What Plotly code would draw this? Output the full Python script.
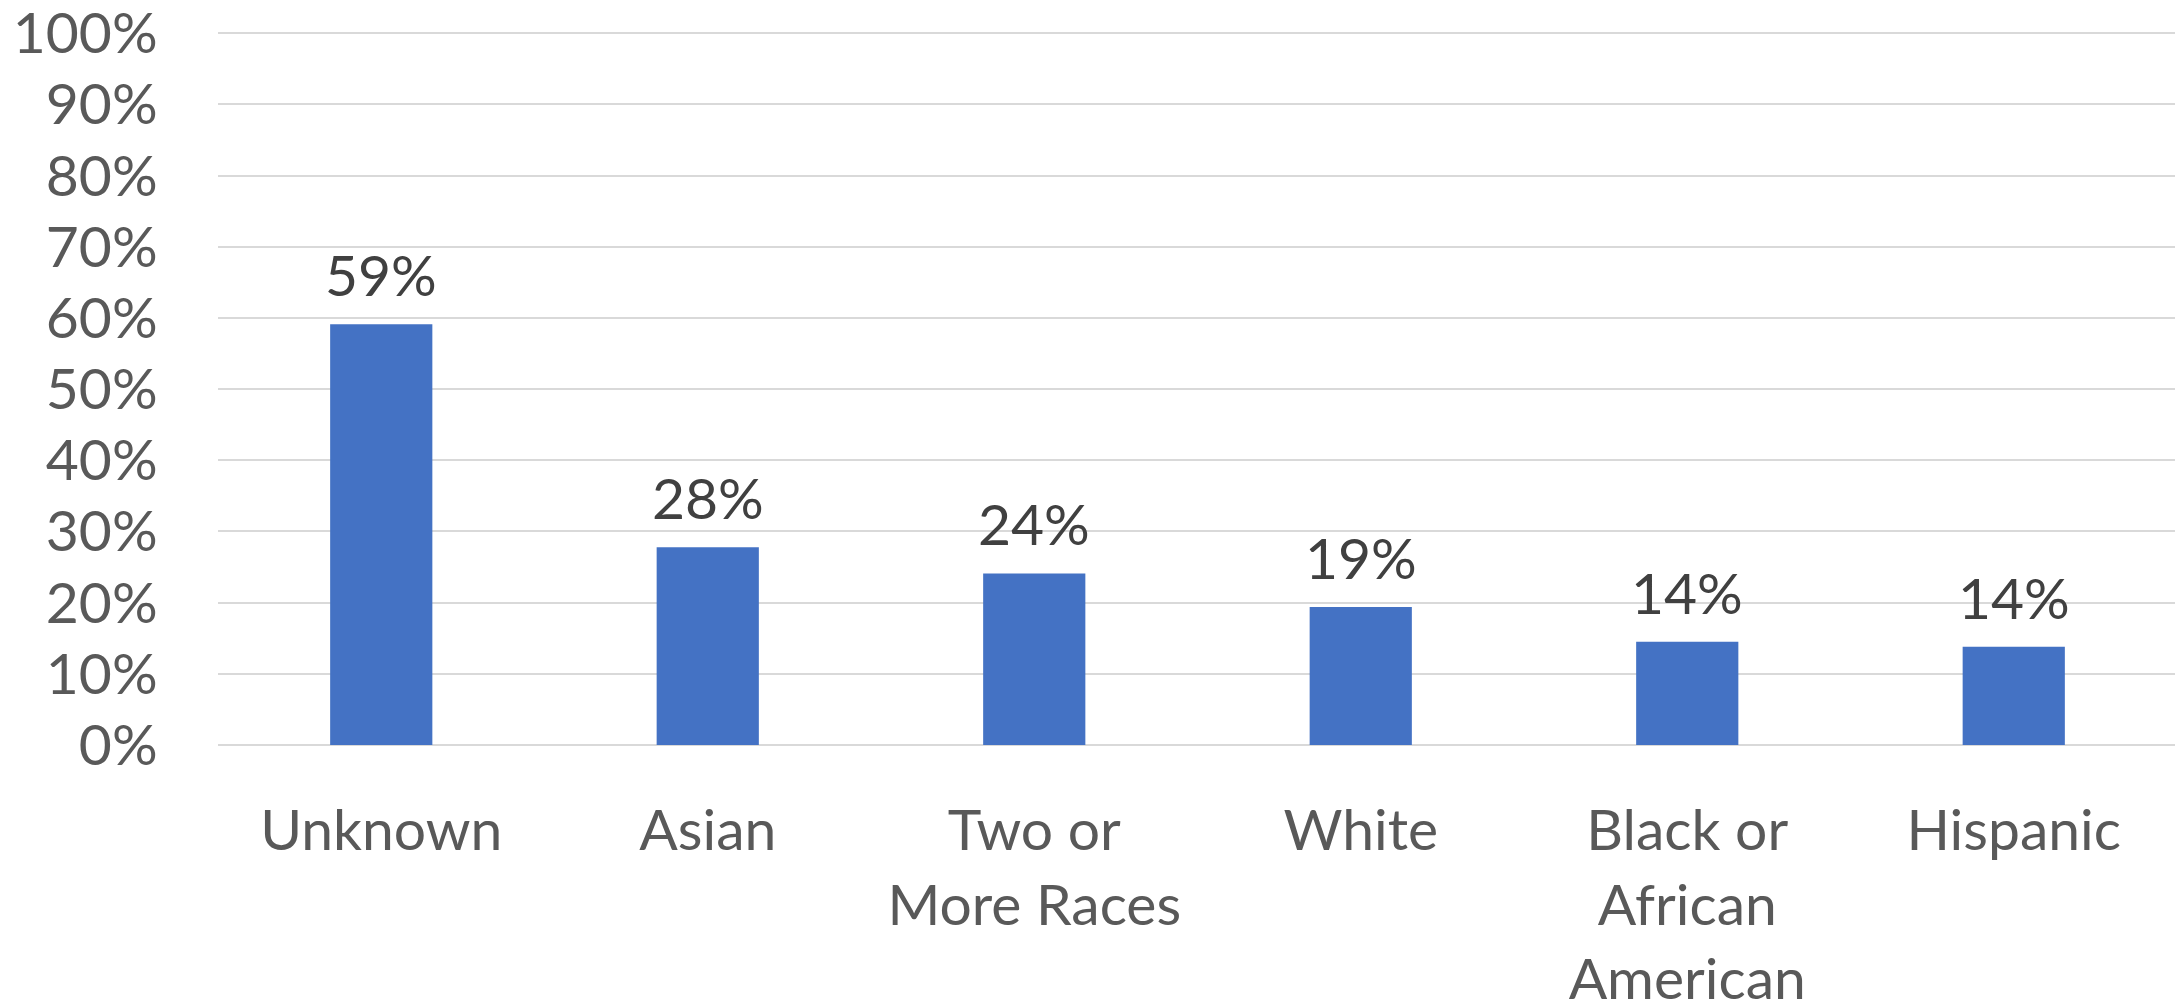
import plotly.graph_objects as go

categories = ["Unknown", "Asian", "Two or<br>More Races", "White", "Black or<br>African<br>American", "Hispanic"]
values = [0.591, 0.278, 0.241, 0.194, 0.145, 0.138]
labels = ["59%", "28%", "24%", "19%", "14%", "14%"]
y_ticks = [i / 10 for i in range(11)]
y_tick_text = [f"{i * 10}%" for i in range(11)]

FONT = "Lato"

fig = go.Figure()
fig.add_trace(go.Bar(
    x=categories, y=values,
    marker=dict(color="#4472C4", line=dict(width=0)),
    width=0.313,
    hoverinfo="skip",
))

for c, v, t in zip(categories, values, labels):
    fig.add_annotation(x=c, y=v, text=t, showarrow=False, yanchor="bottom",
                       yshift=14, font=dict(family=FONT, size=57, color="#404040"))

fig.update_layout(
    width=2175, height=999,
    margin=dict(l=210, r=6, t=11, b=262, autoexpand=False),
    paper_bgcolor="white", plot_bgcolor="white",
    showlegend=False,
    font=dict(family=FONT, size=57, color="#595959"),
    xaxis=dict(
        automargin=False,
        showgrid=False, showline=False, zeroline=False,
        ticks="outside", ticklen=36, tickcolor="rgba(0,0,0,0)",
        tickfont=dict(family=FONT, size=57, color="#595959"),
    ),
    yaxis=dict(
        automargin=False,
        range=[0, 1.02], tickvals=y_ticks, ticktext=y_tick_text,
        ticklabeloverflow="allow",
        showgrid=True, gridcolor="#d9d9d9", gridwidth=1.5,
        zeroline=True, zerolinecolor="#d9d9d9", zerolinewidth=1.5,
        showline=False,
        ticks="outside", ticklen=48, tickcolor="rgba(0,0,0,0)",
        tickfont=dict(family=FONT, size=57, color="#595959"),
    ),
)

fig.write_html("out.html")
